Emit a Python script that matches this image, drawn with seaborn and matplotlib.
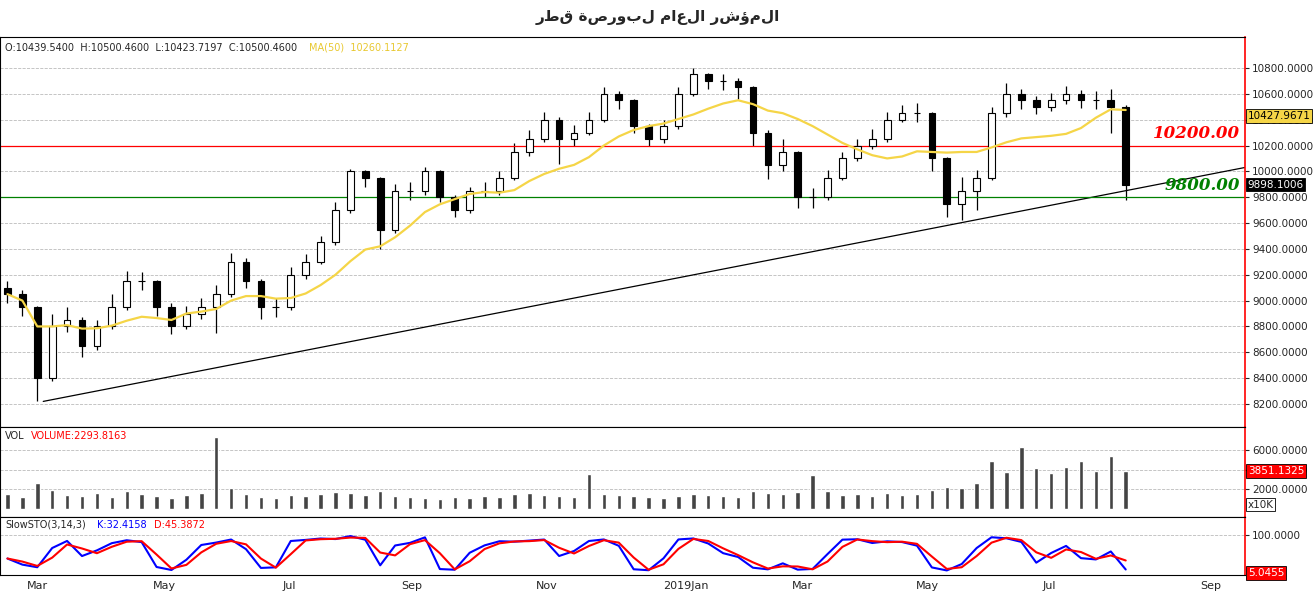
import numpy as np
import pandas as pd
import matplotlib
matplotlib.use('Agg')
import matplotlib.pyplot as plt
import seaborn as sns

sns.set_style('white')
plt.rcParams['font.family'] = ['DejaVu Sans']

# weekly candles
opens = [9100, 9050, 8950, 8400, 8800, 8850, 8650, 8800, 8950, 9150, 9150, 8950, 8800, 8900, 8950, 9050,
         9300, 9150, 8950, 8950, 9200, 9300, 9450, 9700, 10000, 9950, 9550, 9850, 9850, 10000, 9800, 9700,
         9850, 9850, 9950, 10150, 10250, 10400, 10250, 10300, 10400, 10600, 10550, 10350, 10250, 10350,
         10600, 10750, 10700, 10700, 10650, 10300, 10050, 10150, 9800, 9800, 9950, 10100, 10200, 10250,
         10400, 10450, 10450, 10100, 9750, 9850, 9950, 10450, 10600, 10550, 10500, 10550, 10600, 10550,
         10550, 10500]
closes = [9050, 8950, 8400, 8800, 8850, 8650, 8800, 8950, 9150, 9150, 8950, 8800, 8900, 8950, 9050, 9300,
          9150, 8950, 8950, 9200, 9300, 9450, 9700, 10000, 9950, 9550, 9850, 9850, 10000, 9800, 9700, 9850,
          9850, 9950, 10150, 10250, 10400, 10250, 10300, 10400, 10600, 10550, 10350, 10250, 10350, 10600,
          10750, 10700, 10700, 10650, 10300, 10050, 10150, 9800, 9800, 9950, 10100, 10200, 10250, 10400,
          10450, 10450, 10100, 9750, 9850, 9950, 10450, 10600, 10550, 10500, 10550, 10600, 10550, 10550,
          10500, 9898]
highs = [9150, 9080, 8960, 8900, 8950, 8870, 8850, 9050, 9230, 9220, 9160, 8980, 8960, 9020, 9120, 9370,
         9330, 9170, 9020, 9260, 9360, 9500, 9760, 10020, 10010, 9960, 9900, 9920, 10030, 10010, 9820, 9880,
         9920, 10000, 10220, 10320, 10460, 10420, 10360, 10460, 10650, 10620, 10560, 10370, 10400, 10650,
         10800, 10760, 10750, 10720, 10660, 10320, 10250, 10160, 9870, 10010, 10150, 10250, 10330, 10460,
         10510, 10530, 10460, 10110, 9960, 10010, 10500, 10680, 10640, 10580, 10610, 10660, 10630, 10620,
         10640, 10510]
lows = [8980, 8880, 8220, 8380, 8760, 8560, 8620, 8780, 8930, 9080, 8880, 8740, 8780, 8860, 8750, 9030,
        9100, 8860, 8870, 8930, 9170, 9280, 9430, 9680, 9880, 9400, 9520, 9780, 9820, 9760, 9650, 9680,
        9800, 9820, 9930, 10120, 10230, 10060, 10200, 10280, 10380, 10480, 10300, 10200, 10220, 10330,
        10580, 10640, 10630, 10560, 10200, 9940, 10000, 9720, 9720, 9780, 9930, 10080, 10170, 10230,
        10380, 10380, 10000, 9650, 9620, 9700, 9930, 10420, 10480, 10440, 10470, 10520, 10490, 10480,
        10300, 9780]
volumes = [1500, 1200, 2600, 1900, 1400, 1300, 1600, 1200, 1800, 1500, 1300, 1100, 1400, 1600, 7300, 2100,
           1500, 1200, 1100, 1400, 1300, 1500, 1700, 1600, 1400, 1800, 1300, 1200, 1100, 1000, 1200, 1100,
           1300, 1200, 1500, 1600, 1400, 1300, 1200, 3500, 1500, 1400, 1300, 1200, 1100, 1300, 1500, 1400,
           1300, 1200, 1800, 1600, 1500, 1700, 3400, 1800, 1400, 1500, 1300, 1600, 1400, 1500, 1900, 2200,
           2100, 2600, 4900, 3800, 6300, 4200, 3600, 4300, 4900, 3900, 5400, 3850]
trend_x = [2.4, 83.0]
trend_y = [8220, 10030]
tick_pos = [2.0, 10.5, 18.9, 27.1, 36.2, 45.5, 53.3, 61.7, 69.9, 80.7]
tick_labels = ['Mar', 'May', 'Jul', 'Sep', 'Nov', '2019Jan', 'Mar', 'May', 'Jul', 'Sep']
price_ticks = list(range(8200, 10801, 200))

df = pd.DataFrame({'o': opens, 'h': highs, 'l': lows, 'c': closes, 'v': volumes})
df['x'] = np.arange(len(df))
df['ma'] = df['c'].rolling(10, min_periods=1).mean()
lo = df['l'].rolling(3, min_periods=1).min()
hi = df['h'].rolling(3, min_periods=1).max()
df['k'] = 100 * (df['c'] - lo) / (hi - lo)
df['d'] = df['k'].rolling(2, min_periods=1).mean()

fig = plt.figure(figsize=(13.15, 5.91), dpi=100)
W = 1245 / 1315
ax = fig.add_axes([0.0, 0.2775, W, 0.66])
axv = fig.add_axes([0.0, 0.1252, W, 0.1523], sharex=ax)
axs = fig.add_axes([0.0, 0.0271, W, 0.0981], sharex=ax)
fig.text(0.5, 0.97, 'المؤشر العام لبورصة قطر'[::-1], ha='center', va='center', fontsize=11, fontweight='bold')

# candles
up = df['c'] >= df['o']
ax.vlines(df['x'], df['l'], df['h'], color='black', lw=0.9, zorder=2)
ax.bar(df['x'], (df['c'] - df['o']).abs(), bottom=df[['o', 'c']].min(axis=1), width=0.45,
       color=np.where(up, 'white', 'black'), edgecolor='black', lw=0.8, zorder=3)
sns.lineplot(data=df, x='x', y='ma', ax=ax, color='#f5d547', lw=1.6, zorder=4)
ax.plot(trend_x, trend_y, color='black', lw=0.9)
ax.axhline(10200, color='red', lw=0.9)
ax.axhline(9800, color='green', lw=0.9)
ax.text(82.7, 10200 + 25, '10200.00', color='red', fontsize=12, fontweight='bold', style='italic',
        family='DejaVu Serif', va='bottom', ha='right')
ax.text(82.7, 9800 + 25, '9800.00', color='green', fontsize=12, fontweight='bold', style='italic',
        family='DejaVu Serif', va='bottom', ha='right')
ax.set_ylim(8022, 11040)
ax.set_yticks(price_ticks)
ax.set_yticklabels(['%.4f' % t for t in price_ticks])

# volume
axv.bar(df['x'], df['v'], width=0.3, color='#444444')
axv.set_ylim(-850, 8350)
axv.set_yticks([2000, 4000, 6000])
axv.set_yticklabels(['2000.0000', '4000.0000', '6000.0000'])

# stochastic
sns.lineplot(data=df, x='x', y='k', ax=axs, color='blue', lw=1.5)
sns.lineplot(data=df, x='x', y='d', ax=axs, color='red', lw=1.5)
axs.set_ylim(0, 145)
axs.set_yticks([100])
axs.set_yticklabels(['100.0000'])

for a in (ax, axv, axs):
    a.yaxis.tick_right()
    a.tick_params(axis='y', labelsize=7.5, length=3, pad=2)
    a.grid(axis='y', color='#bbbbbb', ls='--', lw=0.6)
    a.set_xlabel('')
    a.set_ylabel('')
    for s in a.spines.values():
        s.set_color('black')
    a.spines['right'].set_color('red')
    a.spines['right'].set_linewidth(1.2)
ax.set_xlim(-0.5, 83)
axs.set_xticks(tick_pos)
axs.set_xticklabels(tick_labels, fontsize=8)
axs.tick_params(axis='x', length=3, pad=1)
plt.setp(ax.get_xticklabels(), visible=False)
plt.setp(axv.get_xticklabels(), visible=False)
ax.tick_params(axis='x', length=0)
axv.tick_params(axis='x', length=0)

# header texts
ax.text(0.004, 0.985, 'O:10439.5400  H:10500.4600  L:10423.7197  C:10500.4600', transform=ax.transAxes,
        fontsize=7, va='top')
ax.text(0.248, 0.985, 'MA(50)  10260.1127', transform=ax.transAxes, fontsize=7, va='top', color='#e8c830')
axv.text(0.004, 0.95, 'VOL', transform=axv.transAxes, fontsize=7, va='top')
axv.text(0.025, 0.95, 'VOLUME:2293.8163', transform=axv.transAxes, fontsize=7, va='top', color='red')
axs.text(0.004, 0.95, 'SlowSTO(3,14,3)', transform=axs.transAxes, fontsize=7, va='top')
axs.text(0.078, 0.95, 'K:32.4158', transform=axs.transAxes, fontsize=7, va='top', color='blue')
axs.text(0.124, 0.95, 'D:45.3872', transform=axs.transAxes, fontsize=7, va='top', color='red')

# value boxes on the right axis
def box(a, y, txt, fc, tc):
    a.annotate(txt, xy=(1.0, y), xycoords=('axes fraction', 'data'), xytext=(2, 0), textcoords='offset points',
               fontsize=7.5, color=tc, va='center', ha='left',
               bbox=dict(boxstyle='square,pad=0.15', fc=fc, ec='black', lw=0.6))

box(ax, 10427.9671, '10427.9671', '#f5d547', 'black')
box(ax, 9898.1006, '9898.1006', 'black', 'white')
box(axv, 3851.1325, '3851.1325', 'red', 'white')
box(axs, 5, '5.0455', 'red', 'white')
axv.annotate('x10K', xy=(1.0, 400), xycoords=('axes fraction', 'data'), xytext=(2, 0),
             textcoords='offset points', fontsize=7.5, va='center',
             bbox=dict(boxstyle='square,pad=0.15', fc='white', ec='black', lw=0.6))

fig.savefig('out.png', dpi=100)
